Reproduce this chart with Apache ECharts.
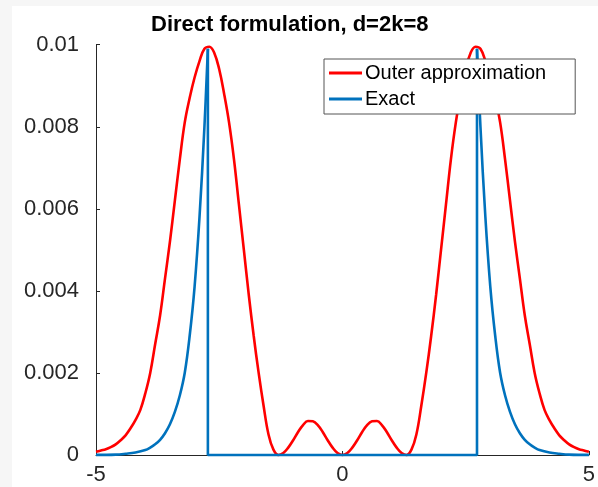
<!DOCTYPE html>
<html>
<head>
<meta charset="utf-8">
<script src="https://cdn.jsdelivr.net/npm/echarts@6/dist/echarts.min.js"></script>
<style>
html,body{margin:0;padding:0;background:#f6f6f6;width:598px;height:487px;overflow:hidden;}
#chart{position:absolute;left:12px;top:6px;width:586px;height:481px;background:#ffffff;}
</style>
</head>
<body>
<div id="chart"></div>
<script>
// ---- data ----
const titleText = 'Direct formulation, d=2k=8';
const seriesNames = ['Outer approximation', 'Exact'];
const xTicks = [-5, 0, 5];
const yTicks = [0, 0.002, 0.004, 0.006, 0.008, 0.01];

const redX = [-5.0,-4.9,-4.8,-4.7,-4.6,-4.5,-4.4,-4.3,-4.2,-4.1,-4.0,-3.9,-3.8,-3.7,-3.6,-3.5,-3.4,-3.3,-3.2,-3.1,-3.0,-2.9,-2.8,-2.7,-2.6,-2.5,-2.4,-2.3,-2.2,-2.1,-2.0,-1.9,-1.8,-1.7,-1.6,-1.5,-1.4,-1.3,-1.2,-1.1,-1.0,-0.9,-0.8,-0.7,-0.6,-0.5,-0.4,-0.3,-0.2,-0.1,0,
  0.1,0.2,0.3,0.4,0.5,0.6,0.7,0.8,0.9,1.0,1.1,1.2,1.3,1.4,1.5,1.6,1.7,1.8,1.9,2.0,2.1,2.2,2.3,2.4,2.5,2.6,2.7,2.8,2.9,3.0,3.1,3.2,3.3,3.4,3.5,3.6,3.7,3.8,3.9,4.0,4.1,4.2,4.3,4.4,4.5,4.6,4.7,4.8,4.9,5.0];
const redY = [0.00008,0.00011,0.00014,0.00019,0.00026,0.00036,0.00048,0.00065,0.00085,0.0011,0.0015,0.0020,0.0027,0.0034,0.0043,0.0052,0.0062,0.0072,0.0081,0.0087,0.0092,0.0096,0.0099,0.00995,0.0098,0.0094,0.0088,0.0081,0.0072,0.0061,0.0050,0.0039,0.0029,0.0020,0.0012,0.0005,0.00013,0,0.00005,0.00018,0.00036,0.00056,0.00073,0.00083,0.00082,0.00073,0.00056,0.00036,0.00018,0.00005,0,
  0.00005,0.00018,0.00036,0.00056,0.00073,0.00082,0.00083,0.00073,0.00056,0.00036,0.00018,0.00005,0,0.00013,0.0005,0.0012,0.0020,0.0029,0.0039,0.0050,0.0061,0.0072,0.0081,0.0088,0.0094,0.0098,0.00995,0.0099,0.0096,0.0092,0.0087,0.0081,0.0072,0.0062,0.0052,0.0043,0.0034,0.0027,0.0020,0.0015,0.0011,0.00085,0.00065,0.00048,0.00036,0.00026,0.00019,0.00014,0.00011,0.00008];

const blueLeftX = [-5.0,-4.6,-4.4,-4.2,-4.0,-3.9,-3.8,-3.7,-3.6,-3.5,-3.4,-3.3,-3.2,-3.1,-3.0,-2.9,-2.8,-2.73];
const blueLeftY = [0.000003,0.00001,0.00003,0.00006,0.00012,0.00018,0.00026,0.00037,0.00053,0.00075,0.00105,0.00145,0.0020,0.0029,0.0041,0.0058,0.0080,0.0099];
const blueMidX = [-2.73,-2.73,2.73,2.73];
const blueMidY = [0.0099,0,0,0.0099];
const blueRightX = [2.73,2.8,2.9,3.0,3.1,3.2,3.3,3.4,3.5,3.6,3.7,3.8,3.9,4.0,4.2,4.4,4.6,5.0];
const blueRightY = [0.0099,0.0080,0.0058,0.0041,0.0029,0.0020,0.00145,0.00105,0.00075,0.00053,0.00037,0.00026,0.00018,0.00012,0.00006,0.00003,0.00001,0.000003];

const zip = (xs, ys) => xs.map((x, i) => [x, ys[i]]);

const RED = '#ff0000', BLUE = '#0072bd', AX = '#262626';
const LW = 2.6;
const chart = echarts.init(document.getElementById('chart'), null, {renderer: 'canvas'});
chart.setOption({
  animation: false,
  backgroundColor: '#ffffff',
  title: {
    text: titleText, left: 139, top: 8, padding: 0,
    textStyle: {fontFamily: 'Liberation Sans, Arial, sans-serif', fontSize: 22, fontWeight: 'bold', color: '#000'}
  },
  legend: {
    data: seriesNames, orient: 'vertical', left: 312, top: 53, icon: 'rect',
    padding: [4, 29, 5, 5], itemGap: 6, itemWidth: 33, itemHeight: 3,
    backgroundColor: '#ffffff', borderColor: '#555', borderWidth: 1, borderRadius: 0,
    textStyle: {fontFamily: 'Liberation Sans, Arial, sans-serif', fontSize: 20, color: '#000', lineHeight: 20, padding: [0,0,0,-2]}
  },
  grid: {left: 84, right: 6, top: 38.7, bottom: 32, containLabel: false},
  xAxis: {
    type: 'value', min: xTicks[0], max: xTicks[xTicks.length-1], interval: xTicks[1]-xTicks[0],
    axisLine: {show: true, onZero: false, lineStyle: {color: AX, width: 1}},
    axisTick: {show: true, inside: true, length: 4, lineStyle: {color: AX}},
    axisLabel: {fontFamily: 'Liberation Sans, Arial, sans-serif', fontSize: 22, color: '#262626', margin: 9},
    splitLine: {show: false}
  },
  yAxis: {
    type: 'value', min: yTicks[0], max: yTicks[yTicks.length-1], interval: yTicks[1]-yTicks[0],
    axisLine: {show: true, onZero: false, lineStyle: {color: AX, width: 1}},
    axisTick: {show: true, inside: true, length: 4, lineStyle: {color: AX}},
    axisLabel: {fontFamily: 'Liberation Sans, Arial, sans-serif', fontSize: 22, color: '#262626', margin: 17,
      formatter: v => String(+v.toFixed(4))},
    splitLine: {show: false}
  },
  series: [
    {name: seriesNames[0], type: 'line', data: zip(redX, redY), smooth: 0.4, showSymbol: false, symbol: 'none',
      lineStyle: {color: RED, width: LW}, itemStyle: {color: RED}, clip: false},
    {name: seriesNames[1], type: 'line', data: zip(blueLeftX, blueLeftY), smooth: 0.4, showSymbol: false, symbol: 'none',
      lineStyle: {color: BLUE, width: LW}, itemStyle: {color: BLUE}, clip: false},
    {name: seriesNames[1], type: 'line', data: zip(blueMidX, blueMidY), smooth: false, showSymbol: false, symbol: 'none',
      lineStyle: {color: BLUE, width: LW}, itemStyle: {color: BLUE}, clip: false},
    {name: seriesNames[1], type: 'line', data: zip(blueRightX, blueRightY), smooth: 0.4, showSymbol: false, symbol: 'none',
      lineStyle: {color: BLUE, width: LW}, itemStyle: {color: BLUE}, clip: false}
  ]
});
</script>
</body>
</html>
